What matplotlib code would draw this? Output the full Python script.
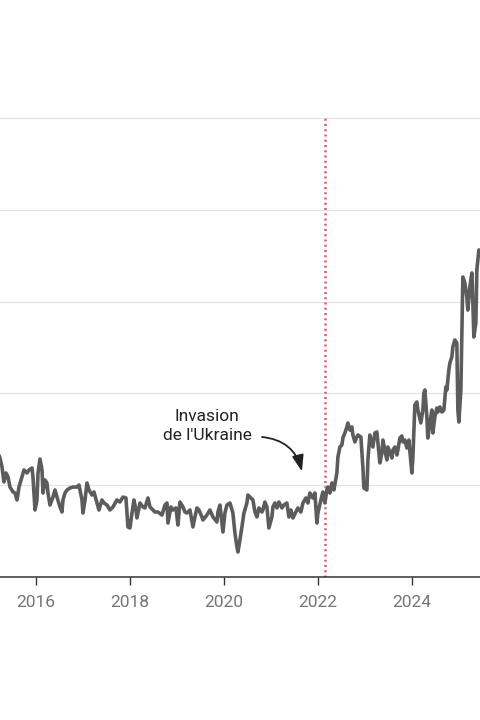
import matplotlib
matplotlib.use("Agg")
import matplotlib.pyplot as plt

plt.rcParams['font.family'] = ['Roboto', 'DejaVu Sans']

# weekly series, dates as decimal years
weeks = [
    2015.170, 2015.234, 2015.277, 2015.298, 2015.319, 2015.362, 2015.404, 2015.447,
    2015.511, 2015.553, 2015.596, 2015.638, 2015.702, 2015.745, 2015.809, 2015.851,
    2015.915, 2015.936, 2015.979, 2016.021, 2016.043, 2016.085, 2016.128, 2016.149,
    2016.191, 2016.234, 2016.255, 2016.298, 2016.362, 2016.404, 2016.447, 2016.511,
    2016.553, 2016.574, 2016.617, 2016.660, 2016.723, 2016.787, 2016.872, 2016.915,
    2016.979, 2017.000, 2017.043, 2017.085, 2017.128, 2017.191, 2017.234, 2017.298,
    2017.340, 2017.404, 2017.447, 2017.511, 2017.574, 2017.638, 2017.723, 2017.787,
    2017.851, 2017.915, 2017.957, 2018.000, 2018.043, 2018.085, 2018.128, 2018.149,
    2018.213, 2018.277, 2018.319, 2018.383, 2018.426, 2018.489, 2018.532, 2018.596,
    2018.681, 2018.745, 2018.787, 2018.809, 2018.872, 2018.915, 2018.979, 2019.021,
    2019.064, 2019.128, 2019.170, 2019.213, 2019.277, 2019.340, 2019.383, 2019.426,
    2019.468, 2019.532, 2019.553, 2019.638, 2019.702, 2019.766, 2019.851, 2019.872,
    2019.915, 2019.957, 2019.979, 2020.021, 2020.064, 2020.128, 2020.191, 2020.234,
    2020.277, 2020.298, 2020.340, 2020.383, 2020.426, 2020.489, 2020.511, 2020.574,
    2020.617, 2020.660, 2020.702, 2020.745, 2020.809, 2020.830, 2020.872, 2020.915,
    2020.957, 2021.021, 2021.043, 2021.085, 2021.128, 2021.170, 2021.234, 2021.277,
    2021.340, 2021.383, 2021.426, 2021.468, 2021.532, 2021.574, 2021.638, 2021.681,
    2021.745, 2021.787, 2021.830, 2021.894, 2021.936, 2021.979, 2022.000, 2022.064,
    2022.106, 2022.149, 2022.191, 2022.213, 2022.255, 2022.298, 2022.340, 2022.404,
    2022.426, 2022.468, 2022.511, 2022.532, 2022.574, 2022.617, 2022.638, 2022.681,
    2022.723, 2022.745, 2022.787, 2022.830, 2022.851, 2022.915, 2022.957, 2022.979,
    2023.043, 2023.064, 2023.106, 2023.149, 2023.170, 2023.213, 2023.255, 2023.277,
    2023.319, 2023.362, 2023.383, 2023.426, 2023.468, 2023.489, 2023.532, 2023.574,
    2023.596, 2023.638, 2023.681, 2023.702, 2023.745, 2023.787, 2023.809, 2023.851,
    2023.894, 2023.936, 2024.000, 2024.021, 2024.064, 2024.106, 2024.128, 2024.191,
    2024.234, 2024.255, 2024.277, 2024.319, 2024.340, 2024.383, 2024.426, 2024.447,
    2024.489, 2024.532, 2024.553, 2024.596, 2024.638, 2024.681, 2024.723, 2024.745,
    2024.787, 2024.809, 2024.851, 2024.872, 2024.915, 2024.957, 2024.979, 2025.000,
    2025.043, 2025.064, 2025.085, 2025.128, 2025.170, 2025.191, 2025.234, 2025.277,
    2025.298, 2025.319, 2025.362, 2025.383, 2025.426, 2025.489,
]
price = [
    1.383, 1.296, 1.198, 1.111, 1.035, 1.133, 1.089, 0.980,
    0.926, 0.915, 0.839, 0.980, 1.089, 1.166, 1.133, 1.166,
    1.187, 1.089, 0.730, 0.839, 1.133, 1.285, 1.166, 0.915,
    1.057, 1.024, 0.915, 0.784, 0.871, 0.948, 0.871, 0.763,
    0.708, 0.839, 0.915, 0.948, 0.969, 0.980, 0.980, 1.002,
    0.839, 0.697, 0.839, 1.024, 0.948, 0.893, 0.926, 0.806,
    0.730, 0.839, 0.806, 0.784, 0.730, 0.763, 0.839, 0.817,
    0.871, 0.861, 0.545, 0.534, 0.697, 0.839, 0.730, 0.643,
    0.806, 0.763, 0.752, 0.861, 0.763, 0.730, 0.708, 0.708,
    0.675, 0.784, 0.806, 0.588, 0.763, 0.730, 0.752, 0.566,
    0.817, 0.763, 0.708, 0.697, 0.730, 0.545, 0.654, 0.752,
    0.730, 0.654, 0.621, 0.675, 0.730, 0.654, 0.599, 0.708,
    0.784, 0.588, 0.490, 0.697, 0.784, 0.806, 0.697, 0.479,
    0.327, 0.272, 0.403, 0.545, 0.697, 0.806, 0.893, 0.861,
    0.839, 0.708, 0.654, 0.752, 0.708, 0.730, 0.817, 0.763,
    0.534, 0.654, 0.763, 0.806, 0.752, 0.817, 0.752, 0.784,
    0.806, 0.654, 0.730, 0.643, 0.708, 0.752, 0.708, 0.806,
    0.861, 0.806, 0.915, 0.861, 0.915, 0.588, 0.697, 0.839,
    0.926, 0.806, 0.948, 0.980, 0.915, 1.024, 0.948, 1.133,
    1.307, 1.416, 1.438, 1.514, 1.569, 1.634, 1.678, 1.601,
    1.634, 1.547, 1.471, 1.525, 1.547, 1.525, 1.198, 0.969,
    0.948, 1.275, 1.547, 1.460, 1.416, 1.569, 1.580, 1.460,
    1.242, 1.351, 1.492, 1.383, 1.275, 1.416, 1.362, 1.296,
    1.383, 1.416, 1.329, 1.383, 1.514, 1.536, 1.471, 1.492,
    1.405, 1.492, 1.133, 1.296, 1.874, 1.906, 1.819, 1.678,
    1.819, 2.004, 2.037, 1.743, 1.514, 1.678, 1.819, 1.569,
    1.743, 1.841, 1.797, 1.852, 1.797, 1.819, 2.070, 2.037,
    2.255, 2.331, 2.397, 2.505, 2.582, 2.549, 1.819, 1.688,
    2.037, 2.658, 3.268, 3.203, 3.050, 2.908, 3.159, 3.312,
    2.985, 2.614, 2.767, 3.344, 3.562, 3.508,
]

year_ticks = [2016, 2018, 2020, 2022, 2024]
grid_levels = [1, 2, 3, 4, 5]
invasion = 2022.15
note = "Invasion\nde l'Ukraine"

fig = plt.figure(figsize=(4.8, 7.2), dpi=100)
ax = fig.add_axes([0, 143 / 720, 1, 577 / 720])

ax.set_xlim(2015.234, 2025.45)
ax.set_ylim(0, 6.285)

for lv in grid_levels:
    ax.axhline(lv, color='#e4e4e4', lw=0.9, zorder=0)

ax.plot(weeks, price, color='#5c5c5c', lw=2.6, solid_joinstyle='round',
        solid_capstyle='round', zorder=3)

ax.vlines(invasion, 0, grid_levels[-1], colors='#e3596b', lw=1.8,
          linestyles=(0, (0.8, 1.3)), zorder=2)

ax.text(2019.64, 1.645, note, ha='center', va='center', fontsize=12.5,
        color='#222222', linespacing=1.3)
ax.annotate("", xy=(2021.66, 1.15), xytext=(2020.81, 1.525),
            arrowprops=dict(arrowstyle='-|>,head_length=0.7,head_width=0.25',
                            connectionstyle='arc3,rad=-0.35', color='#222222',
                            lw=1.3, mutation_scale=14, shrinkA=0, shrinkB=0))

ax.set_xticks(year_ticks)
ax.set_xticklabels([str(y) for y in year_ticks])
ax.set_yticks([])
ax.tick_params(axis='x', length=6, width=1, color='#333333', pad=7,
               labelsize=12.5, labelcolor='#757575')

for side in ['top', 'right', 'left']:
    ax.spines[side].set_visible(False)
ax.spines['bottom'].set_color('#333333')
ax.spines['bottom'].set_linewidth(1.1)

fig.savefig('out.png', dpi=100)
